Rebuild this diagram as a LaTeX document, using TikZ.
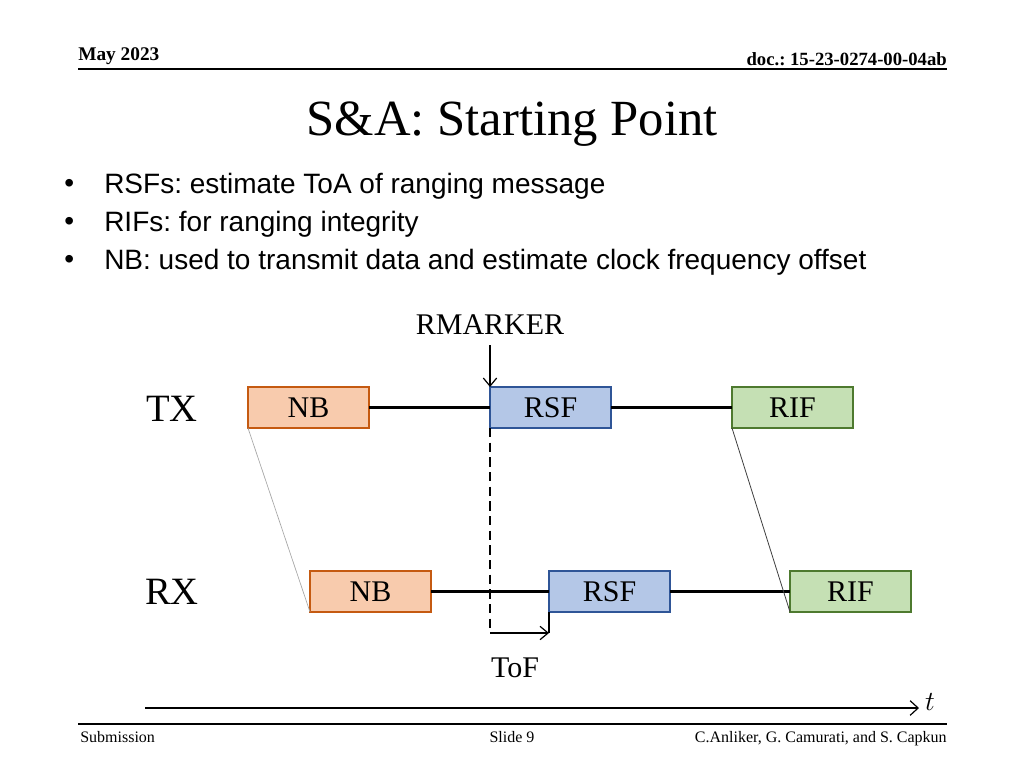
\documentclass[tikz,border=0pt]{standalone}
\usepackage{fontspec}
\setmainfont{Liberation Serif}
\newfontfamily\arialfont{Liberation Sans}
\usetikzlibrary{arrows.meta}
\frenchspacing
\definecolor{nbfill}{HTML}{F8CBAD}
\definecolor{nbdraw}{HTML}{C55A11}
\definecolor{rsffill}{HTML}{B4C7E7}
\definecolor{rsfdraw}{HTML}{2F5597}
\definecolor{riffill}{HTML}{C5E0B4}
\definecolor{rifdraw}{HTML}{4E7A2F}
\tikzset{
  blk/.style={minimum width=121*0.75pt, minimum height=41*0.75pt, line width=2.1pt, inner sep=0pt, outer sep=0pt, font=\fontsize{22.5}{26}\selectfont},
  nbbox/.style={blk, fill=nbfill, draw=nbdraw},
  rsfbox/.style={blk, fill=rsffill, draw=rsfdraw},
  rifbox/.style={blk, fill=riffill, draw=rifdraw},
  link/.style={line width=1.9pt},
  thinarrow/.style={-{Straight Barb[length=6pt,width=10pt]}, line width=0.9pt},
  lbl/.style={font=\fontsize{22.5}{26}\selectfont, inner sep=0pt},
  bul/.style={font=\arialfont\fontsize{21}{25}\selectfont, anchor=west, inner sep=0pt},
  foot/.style={font=\fontsize{12}{14}\selectfont, inner sep=0pt},
}
\begin{document}
\begin{tikzpicture}[x=0.75pt,y=-0.75pt]
\useasboundingbox (0,0) rectangle (1024,768);
\fill[white] (0,0) rectangle (1024,768);
% header
\node[font=\bfseries\fontsize{14.5}{16}\selectfont, anchor=base west, inner sep=0pt] (hdl) at (78,60) {May 2023};
\node[font=\bfseries\fontsize{14}{16}\selectfont, anchor=base east, inner sep=0pt] (hdr) at (947,65) {doc.: 15-23-0274-00-04ab};
\draw[line width=1.5pt] (78,69) -- (947,69);
% title
\node[font=\fontsize{38}{44}\selectfont, anchor=base, inner sep=0pt] (title) at (512,135) {S\&A: Starting Point};
% bullets
\node[bul] (b1d) at (64,186) {•};
\node[bul] (b1) at (104,186) {RSFs: estimate ToA of ranging message};
\node[bul] (b2d) at (64,224) {•};
\node[bul] (b2) at (104,224) {RIFs: for ranging integrity};
\node[bul] (b3d) at (64,262) {•};
\node[bul] (b3) at (104,262) {NB: used to transmit data and estimate clock frequency offset};
% labels
\node[lbl] (rm) at (490,325) {RMARKER};
\node[font=\fontsize{29}{32}\selectfont, inner sep=0pt] (tx) at (172,409) {TX};
\node[font=\fontsize{29}{32}\selectfont, inner sep=0pt] (rx) at (172,592) {RX};
% TX boxes
\node[nbbox] (tnb) at (308.5,407.5) {NB};
\node[rsfbox] (trsf) at (550.5,407.5) {RSF};
\node[rifbox] (trif) at (792.5,407.5) {RIF};
% RX boxes
\node[nbbox] (rnb) at (370.5,591.5) {NB};
\node[rsfbox] (rrsf) at (609.5,591.5) {RSF};
\node[rifbox] (rrif) at (850.5,591.5) {RIF};
% links
\draw[link] (tnb) -- (trsf);
\draw[link] (trsf) -- (trif);
\draw[link] (rnb) -- (rrsf);
\draw[link] (rrsf) -- (rrif);
% slant lines
\draw[gray!70, line width=0.5pt] (tnb.south west) -- (rnb.south west);
\draw[black!75, line width=0.6pt] (trif.south west) -- (rrif.south west);
% RMARKER arrow
\coordinate (rmtop) at (490,345);
\draw[thinarrow] (rmtop) -- (trsf.north west);
% dashed + ToF
\coordinate (dbot) at (490,633);
\coordinate (ebot) at (549,633);
\draw[dash pattern=on 7pt off 4pt, line width=0.9pt] (trsf.south west) -- (dbot);
\draw[line width=0.9pt] (rrsf.south west) -- (ebot);
\draw[thinarrow] (dbot) -- (ebot);
\node[lbl] (tof) at (515,668) {ToF};
% time axis
\coordinate (ax0) at (145,708);
\coordinate (ax1) at (919,708);
\draw[-{Straight Barb[length=6pt,width=11pt]}, line width=0.9pt] (ax0) -- (ax1);
\node[font=\fontsize{20}{24}\selectfont, inner sep=0pt] (tlab) at (930,702) {$t$};
% footer
\draw[line width=1pt] (78,724) -- (947,724);
\node[foot, anchor=base west] (f1) at (80,742) {Submission};
\node[foot, anchor=base] (f2) at (512,742) {Slide 9};
\node[foot, anchor=base east] (f3) at (947,742) {C.Anliker, G. Camurati, and S. Capkun};
\end{tikzpicture}
\end{document}
